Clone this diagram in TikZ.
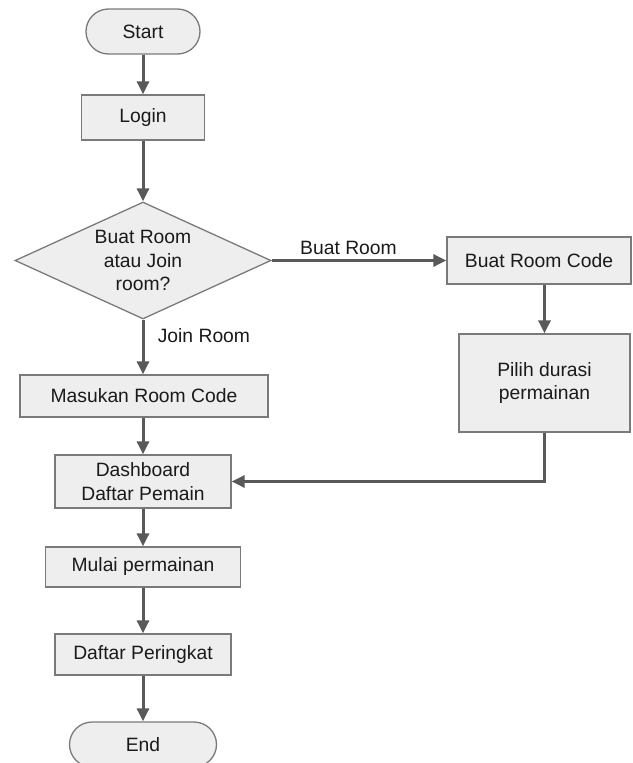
\documentclass[tikz,border=0pt]{standalone}
\usepackage{fontspec}
\setmainfont{Liberation Sans}
\usetikzlibrary{shapes.geometric,arrows.meta}
\definecolor{boxfill}{HTML}{EEEEEE}
\definecolor{boxline}{HTML}{7A7A7A}
\definecolor{flow}{HTML}{595959}
\definecolor{ink}{HTML}{1A1A1A}
\begin{document}
\begin{tikzpicture}[x=1pt,y=-1pt,
  base/.style={draw=boxline,fill=boxfill,line width=1.3pt,text=ink,
    font=\fontsize{19.3}{23.5}\selectfont,align=center,inner sep=0pt},
  procbox/.style={base,rectangle,minimum width=#1},
  termbox/.style={base,rectangle,rounded corners=22.5pt,minimum height=45pt,minimum width=#1},
  decision/.style={base,diamond,aspect=2.2,minimum width=256pt,minimum height=117pt},
  flowline/.style={draw=flow,line width=3pt,-{Triangle[length=13pt,width=12pt]}},
  lbl/.style={text=ink,font=\fontsize{19.3}{23.5}\selectfont}]
\useasboundingbox (0,0) rectangle (632,763);

% nodes of the main column
\node[termbox=114pt] (start) at (143,31.5) {Start};
\node[procbox=123pt,minimum height=45pt] (login) at (143,117.5) {Login};
\node[decision] (choice) at (143,260.5) {Buat Room\\atau Join\\room?};
\node[procbox=248pt,minimum height=42pt] (enter) at (144,396) {Masukan Room Code};
\node[procbox=176pt,minimum height=53pt] (dash) at (143,481.5) {Dashboard\\Daftar Pemain};
\node[procbox=195pt,minimum height=40pt] (play) at (143,567) {Mulai permainan};
\node[procbox=176pt,minimum height=41pt] (rank) at (143,654.5) {Daftar Peringkat};
\node[termbox=147pt] (finish) at (143,744.5) {End};

% nodes of the room-creation branch
\node[procbox=184pt,minimum height=47pt] (create) at (539,260.5) {Buat Room Code};
\node[procbox=171pt,minimum height=98pt] (duration) at (544.5,383) {Pilih durasi\\permainan};

% connectors
\draw[flowline] (start) -- (login);
\draw[flowline] (login) -- (choice);
\draw[flowline] (choice.east) -- node[lbl,pos=0.44,above=1pt] {Buat Room} (create.west);
\draw[flowline] (choice.south) -- node[lbl,pos=0.3,right=10pt] {Join Room} (choice.south |- enter.north);
\draw[flowline] (duration.north |- create.south) -- (duration.north);
\draw[flowline] (duration.south) |- (dash.east);
\draw[flowline] (enter.south -| dash.north) -- (dash.north);
\draw[flowline] (dash) -- (play);
\draw[flowline] (play) -- (rank);
\draw[flowline] (rank) -- (finish);
\end{tikzpicture}
\end{document}
